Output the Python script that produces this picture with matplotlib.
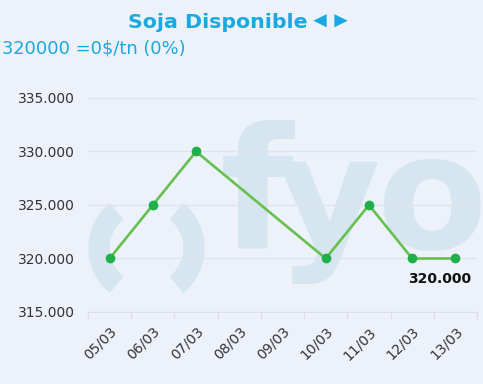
import numpy as np
import matplotlib
matplotlib.use("Agg")
from matplotlib import pyplot as plt
from matplotlib.patches import Wedge
from matplotlib.transforms import IdentityTransform, ScaledTranslation

# data
dates = ["05/03", "06/03", "07/03", "08/03", "09/03", "10/03", "11/03", "12/03", "13/03"]
prices = [320000, 325000, 330000, None, None, 320000, 325000, 320000, 320000]
y_ticks = [315000, 320000, 325000, 330000, 335000]

title = "Soja Disponible"
arrows = "\u25c4\u25ba"
subtitle = "320000 =0$/tn (0%)"

bg = "#edf1f9"
wm = "#d6e6f0"
cyan = "#18a9e0"

W, H = 483, 384
fig = plt.figure(figsize=(W / 100, H / 100), dpi=100, facecolor=bg)

def px(x, y):
    # pixel coords (top-left origin) -> figure fraction
    return x / W, 1 - y / H

# fyo watermark behind the plot: two arcs and the letters
for t1, t2 in [(130, 230), (-50, 50)]:
    fig.add_artist(Wedge((146.5, H - 248), 57.5, t1, t2, width=20, color=wm,
                         transform=IdentityTransform(), zorder=0))
for ch, x, y, size in [("f", 220, 249, 122), ("y", 275, 249, 116), ("o", 376, 249, 116)]:
    fig.text(*px(x, y), ch, fontsize=size, fontweight="bold", color=wm,
             ha="left", va="baseline", zorder=0)

ax = fig.add_axes([88 / W, 1 - 312 / H, (477 - 88) / W, (312 - 98) / H])
ax.set_facecolor("none")
ax.set_zorder(2)

xs = [i for i, v in enumerate(prices) if v is not None]
ys = [v for v in prices if v is not None]
ax.plot(xs, ys, color="#66c04f", lw=1.9, zorder=3, solid_capstyle="round")
ax.plot(xs, ys, "o", color="#1db04b", ms=6, zorder=4)

ax.annotate(f"{ys[-1]:,}".replace(",", "."), (xs[-1], ys[-1]), xytext=(-11, -14.5),
            textcoords="offset points", ha="center", va="center",
            fontsize=10, fontweight="bold", color="#111111")

ax.set_xlim(-0.5, len(dates) - 0.5)
ax.set_ylim(y_ticks[0], y_ticks[-1])
ax.set_yticks(y_ticks)
ax.set_yticklabels([f"{v:,}".replace(",", ".") for v in y_ticks])
ax.set_xticks(range(len(dates)))
ax.set_xticklabels(dates, rotation=45, ha="right", rotation_mode="anchor")
ax.set_xticks(np.arange(-0.5, len(dates)), minor=True)
shift = ScaledTranslation(-4 / 100, 0, fig.dpi_scale_trans)
for lab in ax.get_xticklabels():
    lab.set_transform(lab.get_transform() + shift)

ax.tick_params(axis="y", length=0, pad=9.4, labelsize=10, labelcolor="#333333")
ax.tick_params(axis="x", which="major", length=0, pad=9, labelsize=10, labelcolor="#333333")
ax.tick_params(axis="x", which="minor", length=5, color="#dcdfe6", width=1)

ax.grid(axis="y", color="#dfe3ea", lw=1)
for side in ["top", "right", "left"]:
    ax.spines[side].set_visible(False)
ax.spines["bottom"].set_color("#dcdfe6")

fig.text(*px(128, 22), title, ha="left", va="center", fontsize=14.75,
         fontweight="bold", color=cyan)
fig.text(*px(309, 22), arrows, ha="left", va="center", fontsize=16,
         family=["Liberation Sans", "DejaVu Sans"], color=cyan)
fig.text(*px(2, 48), subtitle, ha="left", va="center", fontsize=12.9, color=cyan)

fig.savefig("out.png", dpi=100, facecolor=bg)
